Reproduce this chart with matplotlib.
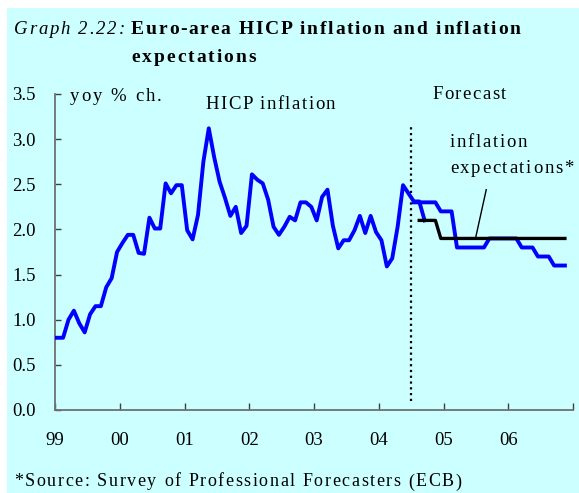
import numpy as np
import matplotlib
matplotlib.use("Agg")
import matplotlib.pyplot as plt
from matplotlib.patches import Rectangle
from matplotlib.font_manager import FontProperties
from matplotlib.transforms import IdentityTransform

plt.rcParams['font.family'] = ['Liberation Serif', 'DejaVu Serif']

# HICP inflation, monthly, Dec 1998 - Sep 2004 (yoy % ch.)
hicp_actual = [
    0.8,                                                              # Dec 98
    0.8, 0.8, 1.0, 1.1, 0.96, 0.86, 1.06, 1.15, 1.15, 1.36, 1.46, 1.75,   # 1999
    1.85, 1.94, 1.94, 1.74, 1.73, 2.13, 2.01, 2.01, 2.51, 2.40, 2.49, 2.49,  # 2000
    1.99, 1.89, 2.16, 2.75, 3.12, 2.80, 2.53, 2.35, 2.15, 2.25, 1.96, 2.04,  # 2001
    2.61, 2.55, 2.51, 2.33, 2.03, 1.94, 2.03, 2.14, 2.10, 2.30, 2.30, 2.25,  # 2002
    2.10, 2.36, 2.44, 2.04, 1.79, 1.88, 1.88, 1.99, 2.15, 1.96, 2.15, 1.97,  # 2003
    1.88, 1.59, 1.68, 2.03, 2.49, 2.40, 2.31, 2.31, 2.10,                    # 2004
]
# HICP forecast, Jul 2004 - Nov 2006
hicp_forecast = [2.3] * 5 + [2.2] * 3 + [1.8] * 6 + [1.9] * 6 + [1.8] * 3 + [1.7] * 3 + [1.6] * 3
# SPF inflation expectations, Aug 2004 - Nov 2006
expectations = [2.1] * 4 + [1.9] * 24

x_ticks = list(range(1999, 2008))
x_labels = ['99', '00', '01', '02', '03', '04', '05', '06', '']
y_ticks = [0.0, 0.5, 1.0, 1.5, 2.0, 2.5, 3.0, 3.5]

# mid-month positions
t_actual = 1998 + (11 + np.arange(len(hicp_actual)) + 0.5) / 12
t_forecast = 2004 + (6 + np.arange(len(hicp_forecast)) + 0.5) / 12
t_expect = 2004 + (7 + np.arange(len(expectations)) + 0.5) / 12

bg = '#CCFFFF'
fig = plt.figure(figsize=(5.79, 4.93), dpi=100)
fig.patch.set_facecolor('white')
fig.patches.append(Rectangle((7 / 579, 0), 1, 1 - 8 / 493, transform=fig.transFigure,
                             facecolor=bg, edgecolor='none', zorder=-10))

ax = fig.add_axes([55 / 579, 1 - 410 / 493, 518 / 579, 316 / 493])
ax.set_facecolor(bg)

ax.plot(t_actual, hicp_actual, color='#0000FF', lw=2.8, zorder=3)
ax.plot(t_forecast, hicp_forecast, color='#0000FF', lw=2.8, zorder=3)
ax.plot(t_expect, expectations, color='black', lw=2.4, zorder=4)
ax.plot([2004.5, 2004.5], [0.1, 3.15], color='black', lw=1.6, linestyle=(0, (1, 1.6)), zorder=2)
ax.plot([2005.66, 2005.5], [2.44, 1.92], color='black', lw=1.0, zorder=5)

ax.set_xlim(1999, 2007)
ax.set_ylim(0, 3.5)
ax.set_xticks(x_ticks)
ax.set_xticklabels(x_labels)
ax.set_yticks(y_ticks)
ax.set_yticklabels([f'{v:.1f}' for v in y_ticks])

for s in ['top', 'right']:
    ax.spines[s].set_visible(False)
for s in ['left', 'bottom']:
    ax.spines[s].set_color('#707070')
    ax.spines[s].set_linewidth(1.3)
ax.tick_params(axis='y', direction='in', length=4, width=1, color='#404040', pad=14, labelsize=13.5)
ax.tick_params(axis='x', direction='in', length=5, width=1, color='#404040', pad=16, labelsize=13.5)

renderer = fig.canvas.get_renderer()


def spaced_text(x, y, s, extra, transform, size=13.5, weight='normal', style='normal'):
    # draw text char by char with extra letter spacing (pixels)
    prop = FontProperties(family=plt.rcParams['font.family'], size=size, weight=weight, style=style)
    px, py = transform.transform((x, y))
    for i, ch in enumerate(s):
        if ch == ' ':
            continue
        w = renderer.get_text_width_height_descent(s[:i], prop, ismath=False)[0] if i else 0
        fig.text(px + w + i * extra, py, ch, fontproperties=prop, transform=IdentityTransform(),
                 va='center', ha='left')


spaced_text(1999.23, 3.47, 'yoy % ch.', 2.0, ax.transData)
spaced_text(2001.32, 3.38, 'HICP inflation', 1.5, ax.transData)
spaced_text(2004.83, 3.49, 'Forecast', 1.4, ax.transData)
spaced_text(2005.1, 2.96, 'inflation', 1.6, ax.transData)
spaced_text(2005.1, 2.68, 'expectations*', 1.7, ax.transData)

spaced_text(14 / 579, 1 - 30 / 493, 'Graph 2.22:', 1.8, fig.transFigure, style='italic')
spaced_text(131 / 579, 1 - 30 / 493, 'Euro-area HICP inflation and inflation', 1.75, fig.transFigure,
            size=14, weight='bold')
spaced_text(131 / 579, 1 - 58 / 493, 'expectations', 2.0, fig.transFigure, size=14, weight='bold')
spaced_text(14 / 579, 1 - 482 / 493, '*Source: Survey of Professional Forecasters (ECB)', 1.6,
            fig.transFigure, size=13)

fig.savefig('out.png', dpi=100, facecolor=fig.get_facecolor())
